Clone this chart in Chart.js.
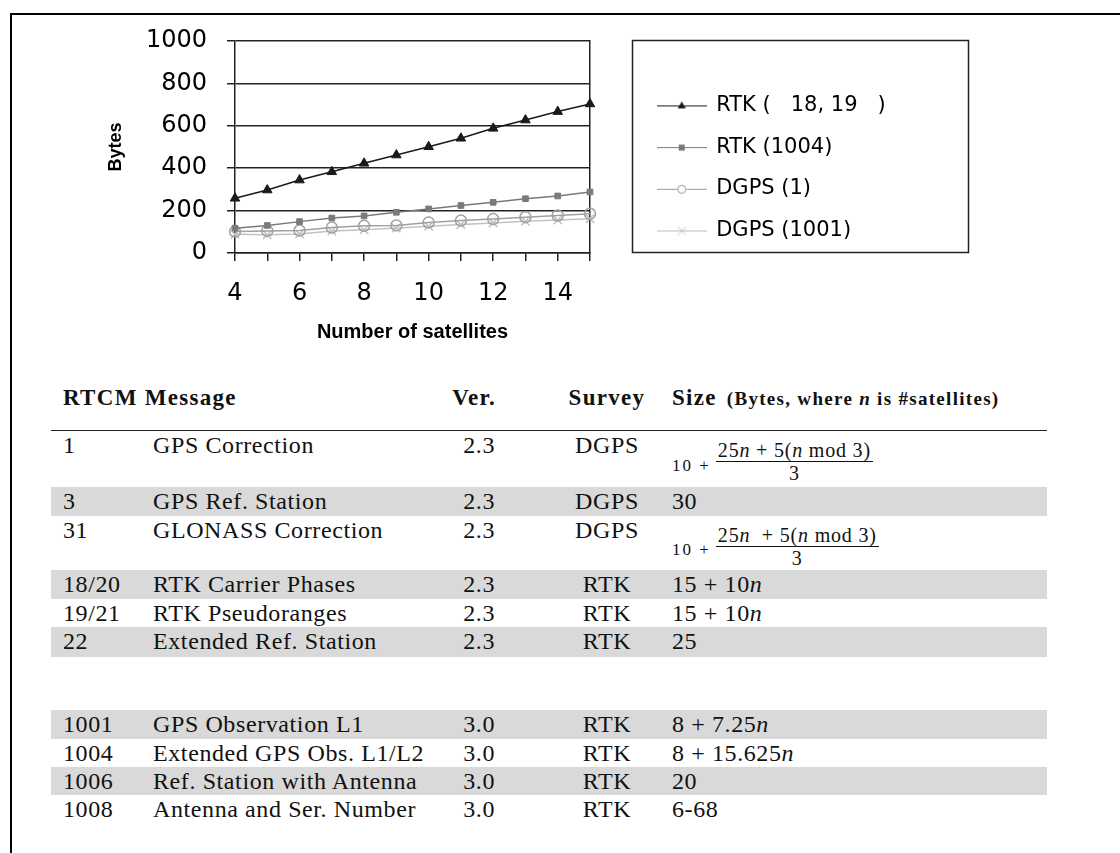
<!DOCTYPE html>
<html>
<head>
<meta charset="utf-8">
<script src="https://cdn.jsdelivr.net/npm/chart.js@4.4.1/dist/chart.umd.min.js"></script>
<style>
  html, body { margin: 0; padding: 0; background: #fff; }
  body { width: 1120px; height: 853px; position: relative; overflow: hidden; }
  #frame { position: absolute; left: 10px; top: 13px; width: 1200px; height: 900px;
           border-top: 2px solid #000; border-left: 2px solid #000; }
  #chartBox { position: absolute; left: 90px; top: 20px; width: 890px; height: 330px; }
  #tbl { position: absolute; left: 51px; top: 384px; width: 996px; border-collapse: collapse;
         table-layout: fixed; font-family: "Liberation Serif", "Times New Roman", serif; color: #111; }
  #tbl td { padding: 0; vertical-align: top; font-size: 24px; line-height: 28px;
            letter-spacing: 0.6px; white-space: nowrap; }
  #tbl tr.hd td { font-weight: bold; font-size: 23px; letter-spacing: 1.3px; height: 46px;
                  border-bottom: 1.5px solid #222; }
  #tbl tr.g td { background: #d9d9d9; }
  #tbl td.c1 { padding-left: 12px; }
  #tbl td.c3 { text-align: right; padding-right: 57px; }
  #tbl td.c4 { text-align: center; }
  #tbl td.c5 { padding-left: 10px; }
  .sub { font-size: 19px; letter-spacing: 1.3px; margin-left: 10px; }
  .f { display: flex; align-items: center; margin-top: 9px; font-size: 20px; letter-spacing: 0.8px; }
  .f .lead { margin-right: 5px; padding-top: 7px; font-size: 17px; letter-spacing: 2px; }
  .frac { display: inline-block; text-align: center; }
  .frac .num { display: block; line-height: 21px; border-bottom: 1.2px solid #111; padding: 0 2px; }
  .frac .den { display: block; line-height: 22px; }
</style>
</head>
<body>
<div id="frame"></div>
<div id="chartBox"><canvas id="bytes_chart" width="890" height="330"></canvas></div>

<table id="tbl">
  <colgroup>
    <col style="width:102px"><col style="width:267px"><col style="width:132px"><col style="width:110px"><col style="width:385px">
  </colgroup>
  <tr class="hd"><td class="c1" colspan="2">RTCM Message</td><td class="c3" style="padding-right:56px">Ver.</td><td class="c4">Survey</td><td class="c5">Size<span class="sub">(Bytes, where <i>n</i> is #satellites)</span></td></tr>
  <tr style="height:56px"><td class="c1">1</td><td>GPS Correction</td><td class="c3">2.3</td><td class="c4">DGPS</td>
    <td class="c5"><div class="f"><span class="lead">10 +</span><span class="frac"><span class="num">25<i>n</i> + 5(<i>n</i> mod 3)</span><span class="den">3</span></span></div></td></tr>
  <tr class="g" style="height:29px"><td class="c1">3</td><td>GPS Ref. Station</td><td class="c3">2.3</td><td class="c4">DGPS</td><td class="c5">30</td></tr>
  <tr style="height:54px"><td class="c1">31</td><td>GLONASS Correction</td><td class="c3">2.3</td><td class="c4">DGPS</td>
    <td class="c5"><div class="f"><span class="lead">10 +</span><span class="frac"><span class="num">25<i>n</i> &nbsp;+ 5(<i>n</i> mod 3)</span><span class="den">3</span></span></div></td></tr>
  <tr class="g" style="height:29px"><td class="c1">18/20</td><td>RTK Carrier Phases</td><td class="c3">2.3</td><td class="c4">RTK</td><td class="c5">15 + 10<i>n</i></td></tr>
  <tr style="height:28px"><td class="c1">19/21</td><td>RTK Pseudoranges</td><td class="c3">2.3</td><td class="c4">RTK</td><td class="c5">15 + 10<i>n</i></td></tr>
  <tr class="g" style="height:30px"><td class="c1">22</td><td>Extended Ref. Station</td><td class="c3">2.3</td><td class="c4">RTK</td><td class="c5">25</td></tr>
  <tr style="height:53px"><td colspan="5"></td></tr>
  <tr class="g" style="height:29px"><td class="c1">1001</td><td>GPS Observation L1</td><td class="c3">3.0</td><td class="c4">RTK</td><td class="c5">8 + 7.25<i>n</i></td></tr>
  <tr style="height:28px"><td class="c1">1004</td><td>Extended GPS Obs. L1/L2</td><td class="c3">3.0</td><td class="c4">RTK</td><td class="c5">8 + 15.625<i>n</i></td></tr>
  <tr class="g" style="height:28px"><td class="c1">1006</td><td>Ref. Station with Antenna</td><td class="c3">3.0</td><td class="c4">RTK</td><td class="c5">20</td></tr>
  <tr style="height:28px"><td class="c1">1008</td><td>Antenna and Ser. Number</td><td class="c3">3.0</td><td class="c4">RTK</td><td class="c5">6-68</td></tr>
</table>

<script>
// number of satellites (x axis categories)
const satellites = ['4', '5', '6', '7', '8', '9', '10', '11', '12', '13', '14', '15'];

// message size in bytes
const rtk_18_19 = [258, 297, 344, 383, 423, 462, 501, 541, 588, 627, 667, 703];
const rtk_1004  = [117, 130, 148, 165, 175, 192, 208, 224, 239, 256, 269, 288];
const dgps_1    = [101, 104, 106, 120, 128, 130, 144, 153, 160, 169, 177, 185];
const dgps_1001 = [ 88,  86,  90, 104, 110, 118, 126, 134, 142, 150, 156, 162];

const seriesNames = ['RTK (   18, 19   )', 'RTK (1004)', 'DGPS (1)', 'DGPS (1001)'];

// legend sizes
const legendFont = 21;
const legendPad = 20.7;
const legendBox = 48;   // space Chart.js keeps for the symbol
const iconW = 50;       // the drawn line sample

// little "line + marker" icons for the legend
function legendIcon(color, style) {
  const c = document.createElement('canvas');
  c.width = iconW; c.height = 14;
  const g = c.getContext('2d');
  const m = iconW / 2;
  g.strokeStyle = color; g.fillStyle = color; g.lineWidth = 1;
  g.beginPath(); g.moveTo(0, 7.5); g.lineTo(iconW, 7.5); g.stroke();
  if (style === 'triangle') {
    g.beginPath(); g.moveTo(m, 3); g.lineTo(m + 4, 10); g.lineTo(m - 4, 10); g.closePath(); g.fill();
  } else if (style === 'rect') {
    g.fillRect(m - 3, 4.5, 6, 6);
  } else if (style === 'circle') {
    g.fillStyle = '#fff';
    g.beginPath(); g.arc(m, 7.5, 4, 0, Math.PI * 2); g.fill(); g.stroke();
  } else {
    g.beginPath(); g.moveTo(m - 4, 3.5); g.lineTo(m + 4, 11.5); g.moveTo(m + 4, 3.5); g.lineTo(m - 4, 11.5); g.stroke();
  }
  return c;
}

const icons = [
  legendIcon('#1a1a1a', 'triangle'),
  legendIcon('#7a7a7a', 'rect'),
  legendIcon('#9c9c9c', 'circle'),
  legendIcon('#bdbdbd', 'cross')
];

// the legend sits at the right edge, so work out its width to keep the plot where it belongs
const measure = document.createElement('canvas').getContext('2d');
measure.font = legendFont + 'px DejaVu Sans';
const longest = Math.max(...seriesNames.map(s => measure.measureText(s).width));
const legendWidth = legendPad + legendBox + legendFont / 2 + longest + 10 - 5;
const rightPad = 890 - 547 - legendWidth;

const legendFrame = {
  id: 'legendFrame',
  afterDraw(chart) {
    const l = chart.legend, a = chart.chartArea, ctx = chart.ctx;
    const x0 = Math.round(l.left - 5) + 0.5;
    const x1 = chart.width - 12 + 0.5;
    ctx.save();
    ctx.strokeStyle = '#222';
    ctx.lineWidth = 1.5;
    ctx.strokeRect(x0, Math.round(a.top) - 0.5, x1 - x0, Math.round(a.bottom - a.top));
    ctx.restore();
  }
};

const bytes_chart = document.getElementById('bytes_chart');

new Chart(bytes_chart, {
  type: 'line',
  data: {
    labels: satellites,
    datasets: [{
      label: seriesNames[0],
      data: rtk_18_19,
      borderColor: '#1a1a1a',
      backgroundColor: '#1a1a1a',
      borderWidth: 1.5,
      pointStyle: 'triangle',
      pointRadius: 5.5,
      pointBorderWidth: 1
    },
    {
      label: seriesNames[1],
      data: rtk_1004,
      borderColor: '#7a7a7a',
      backgroundColor: '#7a7a7a',
      borderWidth: 1.5,
      pointStyle: 'rect',
      pointRadius: 4,
      pointBorderWidth: 1
    },
    {
      label: seriesNames[2],
      data: dgps_1,
      borderColor: '#a0a0a0',
      backgroundColor: 'transparent',
      borderWidth: 1.5,
      pointStyle: 'circle',
      pointRadius: 5.5,
      pointBorderWidth: 1.5
    },
    {
      label: seriesNames[3],
      data: dgps_1001,
      borderColor: '#c2c2c2',
      backgroundColor: 'transparent',
      borderWidth: 1.5,
      pointStyle: 'crossRot',
      pointRadius: 6,
      pointBorderWidth: 1.5
    }]
  },
  options: {
    responsive: false,
    animation: false,
    layout: { padding: { top: 21, right: rightPad, left: 0, bottom: 0 } },
    plugins: {
      tooltip: { enabled: false },
      legend: {
        position: 'right',
        align: 'start',
        maxWidth: legendWidth,
        title: { display: true, text: ' ', font: { size: legendFont }, padding: { top: 4, bottom: 4 } },
        labels: {
          font: { family: 'DejaVu Sans', size: legendFont },
          color: '#000',
          padding: legendPad,
          usePointStyle: true,
          pointStyleWidth: legendBox,
          generateLabels(chart) {
            const items = Chart.defaults.plugins.legend.labels.generateLabels(chart);
            items.forEach((it, i) => { it.pointStyle = icons[i]; });
            return items;
          }
        }
      }
    },
    scales: {
      x: {
        type: 'category',
        offset: false,
        grid: { drawOnChartArea: false, drawTicks: true, tickLength: 8, color: '#222', lineWidth: 1.5 },
        border: { color: '#222', width: 1.5 },
        ticks: {
          autoSkip: false,
          maxRotation: 0,
          padding: 18,
          color: '#000',
          font: { family: 'DejaVu Sans', size: 24 },
          callback: function (value, index) {
            return index % 2 === 0 ? this.getLabelForValue(value) : '';
          }
        },
        title: {
          display: true,
          text: 'Number of satellites',
          color: '#000',
          font: { family: 'Liberation Sans', size: 20, weight: 'bold' },
          padding: { top: 0, bottom: 6 }
        },
        afterFit: (scale) => { scale.height = 97; }
      },
      y: {
        min: 0,
        max: 1000,
        grid: { color: '#222', lineWidth: 1.5, tickLength: 8 },
        border: { color: '#222', width: 1.5 },
        ticks: {
          stepSize: 200,
          padding: 20,
          color: '#000',
          font: { family: 'DejaVu Sans', size: 24 },
          callback: (v) => String(v)
        },
        title: {
          display: true,
          text: 'Bytes',
          color: '#000',
          font: { family: 'Liberation Sans', size: 18, weight: 'bold' },
          padding: { top: 15, bottom: 0 }
        },
        afterFit: (scale) => {
          scale.width = 145;
          scale.paddingTop = 0;
          scale.paddingBottom = 0;
        }
      },
      frameRight: {
        type: 'linear',
        position: 'right',
        grid: { drawOnChartArea: false, drawTicks: false },
        border: { color: '#222', width: 1.5 },
        ticks: { display: false },
        afterFit: (scale) => { scale.width = 47; }
      }
    }
  },
  plugins: [legendFrame]
});
</script>
</body>
</html>
